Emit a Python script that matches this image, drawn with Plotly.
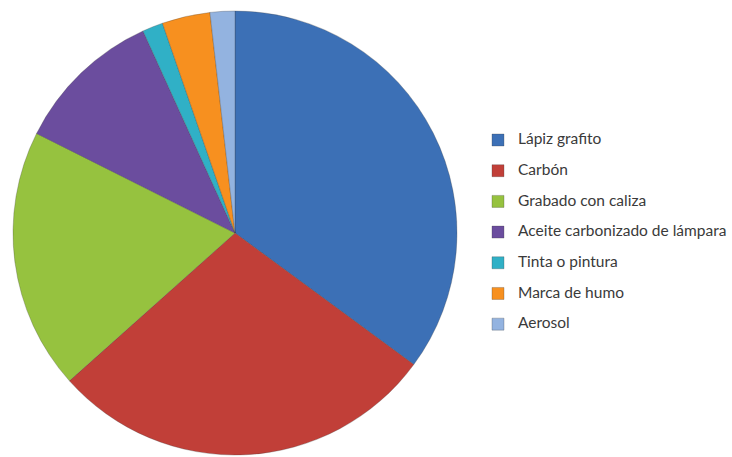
import plotly.graph_objects as go

labels = ["Lápiz grafito", "Carbón", "Grabado con caliza",
          "Aceite carbonizado de lámpara", "Tinta o pintura",
          "Marca de humo", "Aerosol"]
values = [35.1, 28.3, 19.0, 10.8, 1.5, 3.5, 1.8]
colors = ["#3c70b6", "#c13f38", "#96c23f", "#6b4d9e",
          "#30b0c6", "#f7901f", "#93b3e0"]

legend_labels = ["<span style='font-size:15.5px'>" + l + "</span><br>&nbsp;" for l in labels]

fig = go.Figure(go.Pie(
    labels=legend_labels,
    values=values,
    sort=False,
    direction="clockwise",
    rotation=0,
    marker=dict(colors=colors, line=dict(color="rgba(60,60,60,0.35)", width=0.8)),
    textinfo="none",
    hoverinfo="percent",
    domain=dict(x=[13/732, 457/732], y=[1/457, 447/457]),
))

fig.update_layout(
    width=732, height=457,
    margin=dict(l=0, r=0, t=0, b=0),
    paper_bgcolor="white",
    plot_bgcolor="white",
    showlegend=True,
    legend=dict(
        x=0.653, y=0.723, xanchor="left", yanchor="top",
        font=dict(family="Lato", size=10.65, color="#3a3a3a"),
        itemwidth=30, valign="top",
        bgcolor="rgba(0,0,0,0)",
    ),
)

fig.write_html("out.html")
